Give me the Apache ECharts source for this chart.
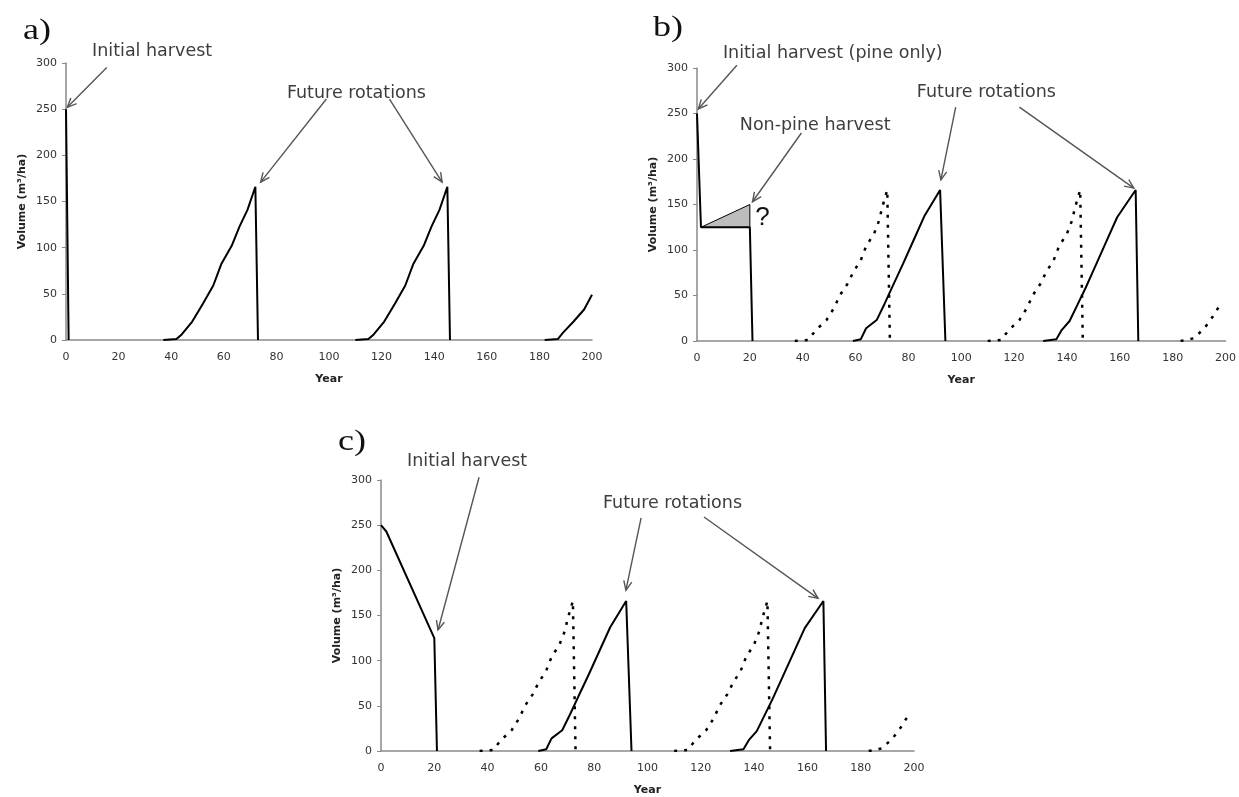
<!DOCTYPE html>
<html>
<head>
<meta charset="utf-8">
<script src="https://cdn.jsdelivr.net/npm/echarts@6/dist/echarts.min.js"></script>
<style>
html,body{margin:0;padding:0;background:#fff}
#chart{width:1239px;height:797px}
</style>
</head>
<body>
<div id="chart"></div>
<script>
// year / volume pairs, '-' breaks the line
var solidA = [[0,250],[1,0],[1.5,'-'],[37,0],[42,1],[44,6],[48,20],[52,39],[56,59],[59,82],[63,102],[66,123],[69,141],[72,166],[73,0],[90,'-'],
  [110,0],[115,1],[117,6],[121,20],[125,39],[129,59],[132,82],[136,102],[139,123],[142,141],[145,166],[146,0],[160,'-'],
  [182,0],[187,1],[189,8],[193,20],[197,33],[200,49]];
var solidB = [[0,250],[1.5,125],[20,125],[21,0],[30,'-'],[59,0],[62,2],[64,14],[68,23],[71,41],[74,60],[78,85],[82,111],[86,137],[92,166],[94,0],[110,'-'],
  [131,0],[136,2],[138,12],[141,22],[144,40],[147,58],[151,84],[155,110],[159,136],[166,166],[167,0]];
var solidC = [[0,250],[2,243],[20,125],[21,0],[30,'-'],[59,0],[62,2],[64,14],[68,23],[71,41],[74,60],[78,85],[82,111],[86,137],[92,166],[94,0],[110,'-'],
  [131,0],[136,2],[138,12],[141,22],[144,40],[147,58],[151,84],[155,110],[159,136],[166,166],[167,0]];
var dotted = [[37,0],[42,1],[45,12],[49,23],[52,37],[54,50],[57,63],[59,75],[62,89],[64,104],[67,118],[69,133],[70,146],[72,166],[73,0],[90,'-'],
  [110,0],[115,1],[118,12],[122,23],[125,37],[127,50],[130,63],[132,75],[135,89],[137,104],[140,118],[142,133],[143,146],[145,166],[146,0],[160,'-'],
  [183,0],[188,3],[192,14],[195,26],[198,40]];
var nonPine = [[1.5,125],[20,150],[20,125]];

// annotations in data space: panel, text, year, volume
var annoTexts = [
  [0,'Initial harvest',9.9,312],[0,'Future rotations',84,267.5],
  [1,'Initial harvest (pine only)',9.8,316.5],[1,'Non-pine harvest',16.2,237],[1,'Future rotations',83.2,273.6],
  [2,'Initial harvest',9.8,320],[2,'Future rotations',83.3,274.5]
];
// panel, from year, from volume, to year, to volume
var annoArrows = [
  [0,15.5,295,0.5,252],[0,99,261,74,171],[0,123,261,143,171],
  [1,15.1,303,0.5,255],[1,39.5,228.6,21,153],[1,97.9,257,92.3,177],[1,122,257,165.3,168],
  [2,36.8,303,21.4,134],[2,97.6,258,91.9,178],[2,121.2,259,164,169]
];
var question = [1,'?',22,135];

var chart = echarts.init(document.getElementById('chart'));

var grids = [
  {left:66, top:63, width:526, height:277},
  {left:697, top:68, width:531, height:273},
  {left:381, top:480, width:533, height:271}
];
var axisColor = '#8a8a8a';
var xAxes = [], yAxes = [];
grids.forEach(function(g, i){
  xAxes.push({
    gridIndex:i, type:'value', min:0, max:200, interval:20,
    axisLine:{lineStyle:{color:axisColor, width:1.5}},
    axisTick:{show:false}, splitLine:{show:false},
    axisLabel:{fontFamily:'DejaVu Sans', fontSize:11, color:'#333', margin:12},
    name:'Year', nameLocation:'middle', nameGap:34,
    nameTextStyle:{fontFamily:'DejaVu Sans', fontWeight:'bold', fontSize:11, color:'#222'}
  });
  yAxes.push({
    gridIndex:i, type:'value', min:0, max:300, interval:50,
    axisLine:{show:true, lineStyle:{color:axisColor, width:1.5}},
    axisTick:{show:true, length:4, lineStyle:{color:axisColor}},
    splitLine:{show:false},
    axisLabel:{fontFamily:'DejaVu Sans', fontSize:11, color:'#333', margin:9},
    name:'Volume (m³/ha)', nameLocation:'middle', nameGap:38,
    nameTextStyle:{fontFamily:'DejaVu Sans', fontWeight:'bold', fontSize:11, color:'#222'}
  });
});

function solid(data, i){
  return {type:'line', xAxisIndex:i, yAxisIndex:i, data:data, showSymbol:false, symbol:'none',
    lineStyle:{color:'#000', width:2}, z:3};
}
function dots(data, i){
  return {type:'line', xAxisIndex:i, yAxisIndex:i, data:data, showSymbol:false, symbol:'none',
    lineStyle:{color:'#000', width:2.5, type:[3,7], cap:'butt'}, z:3};
}

chart.setOption({
  animation:false,
  grid:grids,
  xAxis:xAxes,
  yAxis:yAxes,
  series:[
    solid(solidA,0),
    {type:'line', xAxisIndex:1, yAxisIndex:1, data:nonPine, showSymbol:false, symbol:'none',
      lineStyle:{color:'#000', width:1}, areaStyle:{color:'#bdbdbd', opacity:1, origin:125}, z:2},
    dots(dotted,1),
    solid(solidB,1),
    dots(dotted,2),
    solid(solidC,2)
  ]
});

function px(g, x, y){ return chart.convertToPixel({gridIndex:g}, [x, y]); }

var graphics = [];
[['a)',23,31],['b)',653,28],['c)',338,442]].forEach(function(p){
  graphics.push({type:'text', x:p[1], y:p[2], scaleX:1.2,
    style:{text:p[0], fontFamily:'Liberation Serif', fontSize:30, fill:'#111', verticalAlign:'middle'}});
});
annoTexts.forEach(function(t){
  var p = px(t[0], t[2], t[3]);
  graphics.push({type:'text', x:p[0], y:p[1],
    style:{text:t[1], fontFamily:'DejaVu Sans', fontSize:17.5, fill:'#3d3d3d', verticalAlign:'middle'}});
});
var q = px(question[0], question[2], question[3]);
graphics.push({type:'text', x:q[0], y:q[1],
  style:{text:question[1], fontFamily:'Liberation Sans', fontSize:26, fill:'#111', verticalAlign:'middle'}});

annoArrows.forEach(function(a){
  var s = px(a[0], a[1], a[2]), e = px(a[0], a[3], a[4]);
  var ang = Math.atan2(e[1]-s[1], e[0]-s[0]);
  var len = 10, spread = 0.42;
  var l = [e[0]-len*Math.cos(ang-spread), e[1]-len*Math.sin(ang-spread)];
  var r = [e[0]-len*Math.cos(ang+spread), e[1]-len*Math.sin(ang+spread)];
  graphics.push({type:'line', shape:{x1:s[0], y1:s[1], x2:e[0], y2:e[1]},
    style:{stroke:'#555', lineWidth:1.4}, z:10});
  graphics.push({type:'polyline', shape:{points:[l, e, r]},
    style:{stroke:'#555', lineWidth:1.4, fill:null}, z:10});
});

chart.setOption({graphic:graphics});
</script>
</body>
</html>
